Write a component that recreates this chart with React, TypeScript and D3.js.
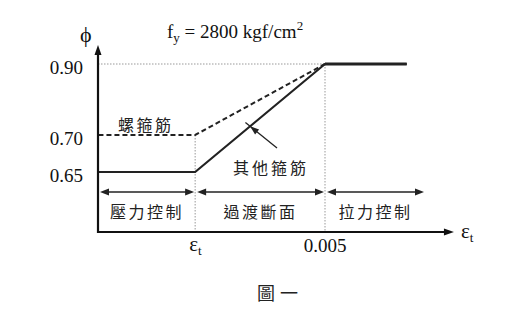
import React from "react";
import * as d3 from "d3";

// data
const EPS_T = 0.00214; // schematic position of εt
const EPS_TC = 0.005;
const EPS_END = 0.0068;
const PHI_VALUES = [0.65, 0.7, 0.9];
const PHI_TICK_LABELS = ["0.65", "0.70", "0.90"];
const otherTies: [number, number][] = [
  [0, 0.65],
  [EPS_T, 0.65],
  [EPS_TC, 0.9],
  [EPS_END, 0.9],
];
const spiralTies: [number, number][] = [
  [0.00001, 0.7],
  [EPS_T, 0.7],
  [EPS_TC, 0.9],
];
const zoneLabels = ["壓力控制", "過渡斷面", "拉力控制"];
const zoneBounds: [number, number][] = [
  [0, EPS_T],
  [EPS_T, EPS_TC],
  [EPS_TC, 0.00763],
];

const W = 508;
const H = 313;

export default function App() {
  const x = d3.scaleLinear().domain([0, EPS_TC]).range([98, 325]);
  // schematic (piecewise) phi scale
  const y = d3
    .scaleLinear()
    .domain([0.58, 0.65, 0.7, 0.9])
    .range([232, 172, 135, 64]);
  const line = d3
    .line<[number, number]>()
    .x((d) => x(d[0]))
    .y((d) => y(d[1]));

  const x0 = x(0);
  const y0 = y(0.58);
  const axisEndX = x(0.00784);
  const axisTopY = 45;
  const serif = "'Liberation Serif', 'Times New Roman', serif";
  const cjk = "'Noto Sans CJK TC', sans-serif";
  const rowY = 192;

  const arrowHead = (tx: number, ty: number, dir: number, len = 9, half = 3.5) => {
    const bx = tx - len * Math.cos(dir);
    const by = ty - len * Math.sin(dir);
    const px = -Math.sin(dir) * half;
    const py = Math.cos(dir) * half;
    return `M${tx},${ty}L${bx + px},${by + py}L${bx - px},${by - py}Z`;
  };

  const annTip: [number, number] = [x(0.00335), 0];
  {
    const t = (0.00335 - EPS_T) / (EPS_TC - EPS_T);
    annTip[1] = y(0.65) + t * (y(0.9) - y(0.65));
  }
  const annStart: [number, number] = [277, 148];
  const annDir = Math.atan2(annTip[1] - annStart[1], annTip[0] - annStart[0]);

  return (
    <svg width={W} height={H} style={{ position: "absolute", left: 0, top: 0, background: "#fff" }}>
      {/* dotted guides */}
      <line x1={x0} x2={x(EPS_TC)} y1={y(0.9)} y2={y(0.9)} stroke="#999" strokeWidth={1} strokeDasharray="1.5,1.5" />
      <line x1={x(EPS_T)} x2={x(EPS_T)} y1={y(0.7)} y2={y0} stroke="#999" strokeWidth={1} strokeDasharray="1.5,1.5" />
      <line x1={x(EPS_TC)} x2={x(EPS_TC)} y1={y(0.9)} y2={y0} stroke="#999" strokeWidth={1} strokeDasharray="1.5,1.5" />

      {/* curves */}
      <path d={line(spiralTies) || ""} fill="none" stroke="#222" strokeWidth={2} strokeDasharray="5,3" />
      <path d={line(otherTies) || ""} fill="none" stroke="#222" strokeWidth={2.2} />
      <line x1={x(EPS_TC)} x2={x(EPS_END)} y1={y(0.9)} y2={y(0.9)} stroke="#222" strokeWidth={3} />

      {/* axes */}
      <line x1={x0} x2={x0} y1={y0 + 1} y2={axisTopY + 6} stroke="#111" strokeWidth={2.2} />
      <path d={arrowHead(x0, axisTopY, -Math.PI / 2, 10, 3.5)} fill="#111" />
      <line x1={x0 - 1} x2={axisEndX - 6} y1={y0} y2={y0} stroke="#111" strokeWidth={2.2} />
      <path d={arrowHead(axisEndX, y0, 0, 10, 3.5)} fill="#111" />

      {/* tick labels */}
      {PHI_VALUES.map((v, i) => (
        <text key={v} x={83} y={y(v) + 10} textAnchor="end" fontFamily={serif} fontSize={19} fill="#111">
          {PHI_TICK_LABELS[i]}
        </text>
      ))}
      <text x={x(EPS_T) - 6} y={251} fontFamily={serif} fontSize={21} fill="#111">
        ε<tspan fontSize={13} dy={4}>t</tspan>
      </text>
      <text x={x(EPS_TC)} y={252} textAnchor="middle" fontFamily={serif} fontSize={19} fill="#111">
        0.005
      </text>
      <text x={461} y={238} fontFamily={serif} fontSize={21} fill="#111">
        ε<tspan fontSize={13} dy={4}>t</tspan>
      </text>
      <text x={80} y={42} fontFamily={serif} fontSize={22} fill="#111">
        ϕ
      </text>

      {/* title */}
      <text x={167} y={38} fontFamily={serif} fontSize={19} fill="#111">
        f<tspan fontSize={13} dy={4}>y</tspan>
        <tspan dy={-4}> = 2800 kgf/cm</tspan>
        <tspan fontSize={13} dy={-8}>2</tspan>
      </text>

      {/* curve labels */}
      <text x={118} y={131} fontFamily={cjk} fontSize={16} letterSpacing={2.5} fill="#222">
        螺箍筋
      </text>
      <text x={233} y={174} fontFamily={cjk} fontSize={16} letterSpacing={3} fill="#222">
        其他箍筋
      </text>
      <line x1={annStart[0]} y1={annStart[1]} x2={annTip[0] + 6 * Math.cos(annDir)} y2={annTip[1] + 6 * Math.sin(annDir)} stroke="#222" strokeWidth={1.3} />
      <path d={arrowHead(annTip[0], annTip[1], annDir, 9, 3.2)} fill="#222" />

      {/* zone arrows */}
      {zoneBounds.map(([a, b], i) => {
        const xa = x(a) + 2;
        const xb = i === 2 ? 424 : x(b) - 1;
        const cx = (xa + xb) / 2;
        return (
          <g key={i}>
            <line x1={xa + 5} x2={xb - 5} y1={rowY} y2={rowY} stroke="#222" strokeWidth={1.6} />
            <path d={arrowHead(xa, rowY, Math.PI, 9, 3.5)} fill="#222" />
            <path d={arrowHead(xb, rowY, 0, 9, 3.5)} fill="#222" />
            <text x={cx} y={218} textAnchor="middle" fontFamily={cjk} fontSize={16} letterSpacing={2.5} fill="#222">
              {zoneLabels[i]}
            </text>
          </g>
        );
      })}

      {/* caption */}
      <text x={257} y={300} fontFamily={cjk} fontSize={18} letterSpacing={5} fill="#222">
        圖一
      </text>
    </svg>
  );
}
